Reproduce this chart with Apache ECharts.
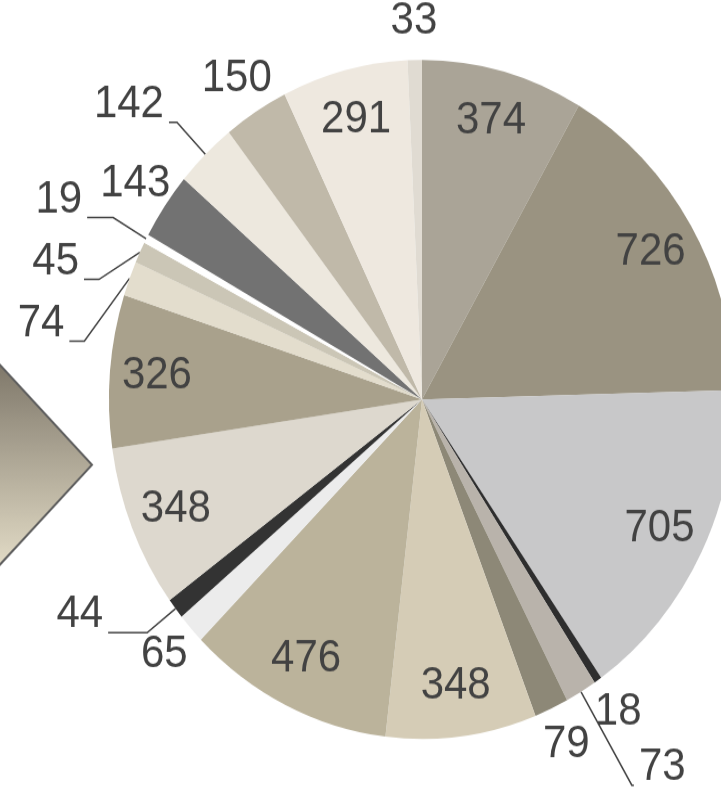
<!DOCTYPE html>
<html>
<head>
<meta charset="utf-8">
<script src="https://cdn.jsdelivr.net/npm/echarts@6/dist/echarts.min.js"></script>
<style>
  html, body { margin: 0; padding: 0; background: #ffffff; overflow: hidden; }
  #wrap { width: 721px; height: 794px; overflow: hidden; position: relative; }
  #chart { width: 721px; height: 732px; transform: scaleY(1.0847); transform-origin: 0 0; }
</style>
</head>
<body>
<div id="wrap"><div id="chart"></div></div>
<script>
// ---- data (clockwise from 12 o'clock) ----
const values = [374, 726, 705, 18, 73, 79, 348, 476, 65, 44, 348, 326, 74, 45, 19, 143, 142, 150, 291, 33];
const labels = values.map(v => String(v));

// ---- styles ----
const colors = ['#aaa497', '#9a9381', '#c8c8c9', '#2e2e2e', '#b9b3ab', '#8d8877', '#d5ccb6', '#bbb39b',
  '#ececec', '#333333', '#ddd8ce', '#a9a18c', '#e3ddcd', '#cbc6b6', '#ffffff', '#727272',
  '#ede8de', '#c0b9a9', '#eee8df', '#e0dbd2'];
// label placement kind: in = inside, out = outside without leader, line = outside with leader
const labelKind = ['in', 'in', 'in', 'out', 'line', 'out', 'in', 'in', 'out', 'line', 'in', 'in',
  'line', 'line', 'line', 'out', 'line', 'out', 'in', 'out'];
// leader line [length, length2] for 'line' labels
const leader = {4: [100, 2], 9: [36, 39], 12: [33.5, 15], 13: [31.6, 15], 14: [41.4, 26], 16: [41, 8]};

const FONT = 'Liberation Sans, Arial, sans-serif';
const TXT = '#424242';
const C = [422, 368.2];
const R = 313;

const chart = echarts.init(document.getElementById('chart'), null, {renderer: 'canvas'});

const sliceData = values.map((v, i) => {
  const isLine = labelKind[i] === 'line';
  const d = {
    value: v,
    name: labels[i],
    itemStyle: {color: colors[i]},
    label: {show: isLine},
    labelLine: {show: isLine}
  };
  if (isLine) {
    d.labelLine = {show: true, length: leader[i][0], length2: leader[i][1]};
  }
  return d;
});

const inData = values.map((v, i) => ({
  value: v, name: labels[i],
  label: {show: labelKind[i] === 'in'}
}));
const outData = values.map((v, i) => ({
  value: v, name: labels[i],
  label: {show: labelKind[i] === 'out'}
}));

const baseLabel = {fontFamily: FONT, fontSize: 42, color: TXT, formatter: '{b}'};

chart.setOption({
  animation: false,
  backgroundColor: '#ffffff',
  graphic: [{
    type: 'polygon',
    silent: true,
    z: 0,
    shape: {points: [[-92, 428.5], [0, 336.5], [92, 428.5], [0, 520.5]]},
    style: {
      fill: new echarts.graphic.LinearGradient(0, 0, 0, 1, [
        {offset: 0, color: '#7f786a'},
        {offset: 1, color: '#e2dbc6'}
      ]),
      stroke: '#5f5f5f',
      lineWidth: 2
    }
  }],
  series: [
    {
      type: 'pie',
      name: 'slices',
      center: C,
      radius: R,
      startAngle: 90,
      clockwise: true,
      avoidLabelOverlap: true,
      emphasis: {disabled: true},
      silent: true,
      itemStyle: {borderWidth: 0},
      label: {
        position: 'outside',
        distanceToLabelLine: 5,
        formatter: p => '{t|' + p.name + '}\n{s| }',
        rich: {
          t: {fontFamily: FONT, fontSize: 42, color: TXT, lineHeight: 33},
          s: {fontFamily: FONT, fontSize: 2, color: TXT, lineHeight: 33}
        }
      },
      labelLine: {lineStyle: {color: TXT, width: 1.5}},
      data: sliceData
    },
    {
      type: 'pie',
      name: 'innerLabels',
      center: C,
      radius: [230, 296],
      startAngle: 90,
      clockwise: true,
      silent: true,
      emphasis: {disabled: true},
      itemStyle: {color: 'rgba(0,0,0,0)', borderWidth: 0},
      label: Object.assign({}, baseLabel, {position: 'inside'}),
      labelLine: {show: false},
      z: 3,
      data: inData
    },
    {
      type: 'pie',
      name: 'outerLabels',
      center: C,
      radius: [318, 374],
      startAngle: 90,
      clockwise: true,
      silent: true,
      emphasis: {disabled: true},
      itemStyle: {color: 'rgba(0,0,0,0)', borderWidth: 0},
      label: Object.assign({}, baseLabel, {position: 'inside'}),
      labelLine: {show: false},
      z: 3,
      data: outData
    }
  ]
});
</script>
</body>
</html>
